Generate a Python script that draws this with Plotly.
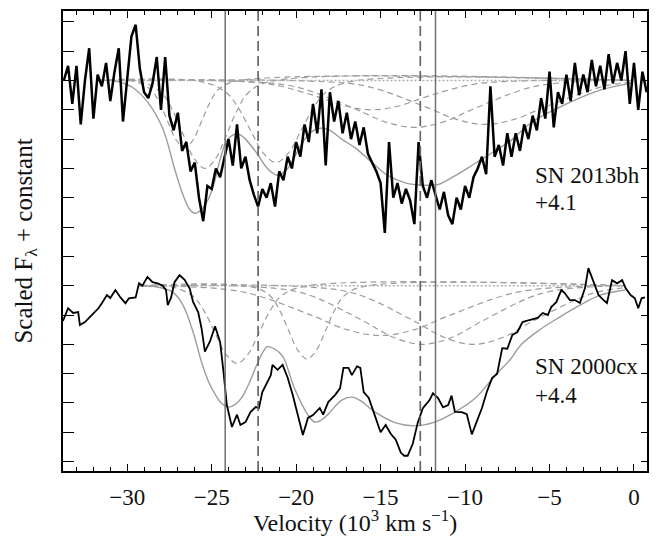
import plotly.graph_objects as go

# ---------------- data (plot units) ----------------
# SN 2013bh spectrum (top), velocity in 10^3 km/s
top_v = [-33.75 + 0.25 * i for i in range(139)]
top_flux = [
    13.0, 13.5, 12.2, 13.5, 11.5, 13.0, 14.1, 11.7, 13.2, 12.8, 13.6, 12.3, 13.3, 14.1, 11.6, 13.0,
    14.5, 14.9, 13.4, 12.6, 12.4, 12.9, 13.8, 12.0, 13.8, 11.8, 11.3, 11.9, 10.6, 10.9, 9.9, 10.2,
    9.0, 8.2, 9.4,
    9.3, 10.0, 9.7, 10.4, 11.0, 10.1, 11.5, 10.0, 10.4, 9.6, 9.1, 8.7, 9.3, 9.0, 9.5, 8.7,
    9.9, 9.6, 10.4, 10.0, 10.9, 10.4, 11.5, 10.9, 12.2, 11.2, 12.7, 10.1, 12.6, 11.6, 12.3, 11.2,
    11.9, 11.0, 11.6, 10.8,
    11.4, 10.5, 10.2, 9.9, 9.5, 7.8, 10.9, 9.0, 9.5, 8.8, 9.3, 8.9, 8.1, 10.9, 9.4, 9.0,
    9.6, 9.1, 8.6, 9.2, 8.4, 8.1, 9.0, 8.6, 9.4, 9.0, 9.7, 10.0, 10.4, 9.8, 12.8, 10.4,
    10.8, 10.1, 11.2,
    10.4, 11.2, 10.6, 11.5, 11.0, 11.8, 11.3, 12.4, 11.7, 13.3, 11.4, 12.6, 12.2, 13.2, 12.3, 13.6,
    12.5, 13.2, 12.6, 13.7, 12.8, 13.5, 12.7, 13.9, 12.9, 13.6, 13.0, 14.0, 12.2, 13.6, 12.0, 13.3,
    12.6,
]

# SN 2000cx spectrum (bottom)
bot_v = [
    -33.8, -33.5, -33.2, -32.9, -32.8, -32.5, -32.1, -31.7, -31.5, -31.2, -31.0, -30.7, -30.4, -30.1,
    -29.9, -29.5, -29.3, -29.1, -28.8, -28.5, -28.2, -27.9, -27.7, -27.6, -27.4, -27.2, -26.9, -26.6,
    -26.3, -26.1, -25.8, -25.6, -25.4, -25.1, -24.8, -24.5, -24.3, -24.1, -23.8, -23.5, -23.3, -23.0,
    -22.7, -22.4, -22.2, -22.0, -21.8, -21.5, -21.4, -21.1, -20.8, -20.5, -20.2, -19.9, -19.6, -19.3,
    -19.0, -18.6, -18.4, -18.1, -17.7, -17.4, -17.2, -16.9, -16.7, -16.4, -16.2, -16.0, -15.7, -15.4,
    -15.0, -14.7, -14.4, -14.1, -13.8, -13.6, -13.4, -13.1, -12.8, -12.5, -12.1, -11.9, -11.6, -11.3,
    -11.0, -10.8, -10.6, -10.2, -9.9, -9.6, -9.3, -9.0, -8.7, -8.4, -8.1, -7.8, -7.5, -7.2,
    -6.9, -6.6, -6.2, -5.7, -5.4, -5.1, -4.9, -4.6, -4.3, -4.1, -3.8, -3.5, -3.2, -2.9,
    -2.7, -2.4, -2.1, -1.8, -1.6, -1.3, -1.0, -0.7, -0.5, -0.2, 0.05, 0.25, 0.45, 0.65,
]
bot_flux = [
    4.8, 5.23, 5.07, 5.1, 4.66, 4.76, 5.0, 5.23, 5.4, 5.68, 5.58, 5.85, 5.6, 5.4,
    5.57, 5.6, 6.08, 6.0, 6.3, 6.12, 6.08, 6.0, 5.85, 5.34, 5.6, 6.12, 6.36, 6.2,
    5.9, 5.45, 5.1, 4.55, 3.75, 4.1, 4.62, 4.08, 3.06, 1.93, 1.18, 1.6, 1.25, 1.35,
    1.69, 1.86, 1.83, 2.37, 2.6, 2.95, 3.3, 3.13, 3.3, 2.86, 2.27, 1.59, 0.91, 1.49,
    1.59, 1.83, 1.6, 2.03, 2.27, 2.5, 3.2, 3.2, 2.95, 3.25, 3.2, 2.37, 2.17, 1.67,
    1.0, 1.25, 0.95, 0.75, 0.3, 0.2, 0.2, 0.6, 1.33, 1.82, 2.1, 2.33, 2.17, 1.85,
    1.93, 2.25, 1.7, 1.69, 1.62, 0.93, 1.4, 1.83, 2.4, 2.85, 3.0, 3.87, 3.85, 4.32,
    4.42, 4.76, 4.83, 4.9, 5.07, 5.0, 5.27, 5.44, 5.85, 5.75, 5.51, 5.51, 5.41, 5.92,
    6.6, 6.13, 5.68, 5.51, 5.41, 6.19, 6.08, 6.19, 5.92, 5.68, 5.57, 5.23, 5.57, 5.6,
]

# model fits (solid grey)
top_fit_v = [-31.7, -30.6, -29.7, -28.8, -27.9, -27.2, -26.7, -26.3, -26.0, -25.6, -25.2, -24.9,
             -24.5, -24.1, -23.7, -23.4, -23.0, -22.3, -21.7, -21.1, -20.5, -19.8, -19.2, -18.6,
             -18.0, -17.3, -16.5, -15.5, -14.6, -13.5, -12.5, -11.6, -10.6, -9.6, -8.5, -7.3,
             -6.0, -4.0, -2.0, -0.2]
top_fit = [13.0, 12.97, 12.77, 12.27, 11.37, 10.0, 9.1, 8.6, 8.47, 8.6, 8.95, 9.4,
           10.3, 10.96, 11.15, 11.17, 11.0, 10.5, 10.0, 9.77, 10.0, 10.7, 11.2, 11.37,
           11.3, 11.0, 10.7, 10.2, 9.77, 9.5, 9.43, 9.45, 9.75, 10.1, 10.5, 10.95,
           11.6, 12.2, 12.67, 12.9]
bot_fit_v = [-29.3, -28.5, -28.0, -27.3, -26.7, -26.1, -25.6, -25.2, -24.8, -24.4, -24.0, -23.6,
             -23.2, -22.8, -22.4, -22.0, -21.7, -21.3, -20.8, -20.1, -19.3, -18.9, -18.5, -18.1,
             -17.3, -16.7, -16.2, -15.3, -14.1, -13.0, -11.8, -10.6, -9.4, -8.2, -7.3, -6.7,
             -5.6, -4.4, -3.2, -2.0, -1.0, -0.5]
bot_fit = [6.0, 5.98, 5.93, 5.78, 5.34, 4.42, 3.4, 2.75, 2.3, 1.98, 1.86, 1.95,
           2.2, 2.65, 3.2, 3.7, 3.92, 3.85, 3.6, 2.5, 1.59, 1.35, 1.42, 1.62,
           2.1, 2.2, 2.08, 1.68, 1.32, 1.22, 1.35, 1.69, 2.16, 2.95, 3.5, 3.98,
           4.49, 4.93, 5.34, 5.68, 5.81, 5.85]

# individual components (dashed grey)
top_comp_v = [
    [-31.7, -29.6, -28.6, -28.1, -27.6, -27.1, -26.6, -26.1, -25.6, -25.1, -24.6, -23.6, -0.2],
    [-31.7, -29.3, -28.0, -27.35, -26.7, -26.05, -25.4, -24.75, -24.1, -23.45, -22.8, -21.5, -0.2],
    [-31.7, -25.7, -24.2, -23.45, -22.7, -21.95, -21.2, -20.45, -19.7, -18.95, -18.2, -16.7, -0.2],
    [-31.7, -24.5, -21.5, -19.0, -17.0, -15.5, -14.0, -12.0, -9.5, -6.5, -0.2],
    [-31.7, -23.5, -20.0, -16.5, -14.75, -13.0, -11.25, -9.5, -6.0, -2.5, -0.2],
    [-31.7, -19.3, -15.8, -12.3, -10.55, -8.8, -7.05, -5.3, -1.8, -0.2],
]
top_comp = [
    [13.0, 12.97, 12.69, 12.25, 11.60, 10.97, 10.70, 10.97, 11.60, 12.25, 12.69, 12.97, 13.0],
    [13.0, 12.97, 12.6, 12.03, 11.18, 10.35, 10.0, 10.35, 11.18, 12.03, 12.6, 12.97, 13.0],
    [13.0, 12.97, 12.62, 12.09, 11.30, 10.53, 10.2, 10.53, 11.30, 12.09, 12.62, 12.97, 13.0],
    [13.0, 12.99, 12.87, 12.5, 12.12, 12.0, 12.12, 12.5, 12.87, 12.99, 13.0],
    [13.0, 12.98, 12.78, 12.03, 11.59, 11.4, 11.59, 12.03, 12.78, 12.98, 13.0],
    [13.0, 12.98, 12.8, 12.09, 11.68, 11.5, 11.68, 12.09, 12.8, 12.94],
]
bot_comp_v = [
    [-29.2, -27.4, -26.1, -25.45, -24.8, -24.15, -23.5, -22.85, -22.2, -21.55, -20.9, -19.6, -0.5],
    [-29.2, -22.65, -21.55, -21.0, -20.45, -19.9, -19.35, -18.8, -18.25, -17.7, -17.15, -16.05, -0.5],
    [-29.2, -27.0, -23.0, -19.0, -17.0, -15.0, -13.0, -11.0, -7.0, -3.0, -0.5],
    [-29.2, -23.0, -19.5, -16.0, -14.25, -12.5, -10.75, -9.0, -5.5, -2.0, -0.5],
    [-29.2, -20.0, -16.5, -13.0, -11.25, -9.5, -7.75, -6.0, -2.5, -0.5],
]
bot_comp = [
    [6.0, 5.97, 5.64, 5.14, 4.39, 3.66, 3.35, 3.66, 4.39, 5.14, 5.64, 5.97, 6.0],
    [6.0, 5.97, 5.66, 5.19, 4.48, 3.8, 3.5, 3.8, 4.48, 5.19, 5.66, 5.97, 6.0],
    [6.0, 5.98, 5.77, 4.97, 4.5, 4.3, 4.5, 4.97, 5.77, 5.98, 6.0],
    [6.0, 5.98, 5.73, 4.79, 4.24, 4.0, 4.24, 4.79, 5.73, 5.98, 6.0],
    [6.0, 5.98, 5.73, 4.79, 4.24, 4.0, 4.24, 4.79, 5.73, 5.93],
]

# continuum levels and their velocity extents
top_cont_v = [-31.7, -0.2]
top_cont = [13.0, 13.0]
bot_cont_v = [-29.2, -0.5]
bot_cont = [6.0, 6.0]

# marker velocities
solid_marks = [-24.2, -11.75]
dashed_marks = [-22.25, -12.65]

# labels
labels = ["SN 2013bh", "+4.1", "SN 2000cx", "+4.4"]
label_y = [9.77, 8.85, 3.26, 2.24]
label_x = -5.98

x_ticks = [-30, -25, -20, -15, -10, -5, 0]
x_range = [-33.8, 0.77]
y_range = [-0.32, 15.37]

# ---------------- figure ----------------
GREY = "#9c9c9c"
FONT = "Liberation Serif"
TXT = "#111"
fig = go.Figure()

for xs, ys in zip(top_comp_v + bot_comp_v, top_comp + bot_comp):
    fig.add_trace(go.Scatter(x=xs, y=ys, mode="lines", line_shape="spline",
                             line=dict(color=GREY, width=1.2, dash="6px,4px"),
                             hoverinfo="skip", showlegend=False))

for xs, ys in [(top_cont_v, top_cont), (bot_cont_v, bot_cont)]:
    fig.add_trace(go.Scatter(x=xs, y=ys, mode="lines",
                             line=dict(color="#b0b0b0", width=1.6, dash="2px,2px"),
                             showlegend=False))

for xs, ys in [(top_fit_v, top_fit), (bot_fit_v, bot_fit)]:
    fig.add_trace(go.Scatter(x=xs, y=ys, mode="lines", line_shape="spline",
                             line=dict(color=GREY, width=1.4), showlegend=False))

fig.add_trace(go.Scatter(x=top_v, y=top_flux, mode="lines",
                         line=dict(color="black", width=2.5), showlegend=False))
fig.add_trace(go.Scatter(x=bot_v, y=bot_flux, mode="lines",
                         line=dict(color="black", width=1.8), showlegend=False))

for v in solid_marks:
    fig.add_vline(x=v, line=dict(color="#707070", width=1.5))
for v in dashed_marks:
    fig.add_vline(x=v, line=dict(color="#666666", width=1.7, dash="10px,5px"))

# invisible trace to anchor right-hand tick axis
fig.add_trace(go.Scatter(x=[x_range[0]], y=[y_range[0]], yaxis="y2", mode="markers",
                         marker=dict(opacity=0), showlegend=False, hoverinfo="skip"))

for t, y in zip(labels, label_y):
    fig.add_annotation(x=label_x, y=y, text=t, showarrow=False, xanchor="left",
                       yanchor="middle", font=dict(family=FONT, size=23, color=TXT))

fig.update_layout(
    width=659, height=536,
    margin=dict(l=63, r=12, t=11, b=65),
    paper_bgcolor="white", plot_bgcolor="white",
    font=dict(family=FONT, size=23, color=TXT),
    xaxis=dict(range=x_range, tickvals=x_ticks, ticks="inside", ticklen=7, tickwidth=1.2,
               tickcolor="black", showline=True, linecolor="black", linewidth=1.5,
               mirror="ticks", showgrid=False, zeroline=False, ticklabelstandoff=5,
               automargin=False,
               minor=dict(dtick=1, tick0=0, ticks="inside", ticklen=4, tickwidth=1.1,
                          tickcolor="black", showgrid=False),
               tickfont=dict(family=FONT, size=23, color=TXT),
               title=dict(text="Velocity (10<sup>3</sup> km s<sup>−1</sup>)", standoff=7,
                          font=dict(family=FONT, size=24, color=TXT))),
    yaxis=dict(range=y_range, tick0=0, dtick=1, ticks="inside", ticklen=11, tickwidth=1.2,
               tickcolor="black", showticklabels=False, showline=True, linecolor="black",
               linewidth=1.5, mirror=True, showgrid=False, zeroline=False, automargin=False,
               title=dict(text="Scaled F<sub>λ</sub> + constant", standoff=22,
                          font=dict(family=FONT, size=25, color=TXT))),
    yaxis2=dict(range=y_range, overlaying="y", side="right", tick0=0, dtick=1, ticks="inside",
                ticklen=6, tickwidth=1.2, tickcolor="black", showticklabels=False,
                showline=False, showgrid=False, zeroline=False, automargin=False),
)

fig.write_html("out.html", config={"displayModeBar": False},
               post_script="document.body.style.margin='0px';")
